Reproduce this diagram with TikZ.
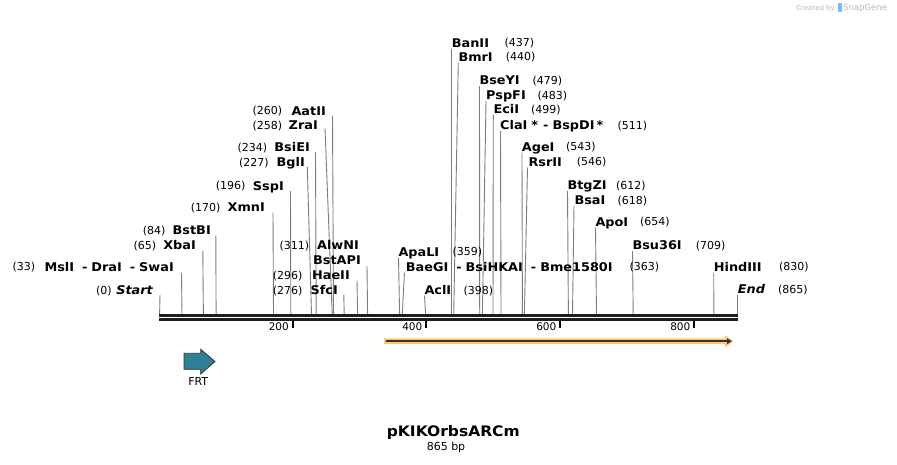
\documentclass[tikz,border=0pt]{standalone}
\usepackage{fontspec}
\setmainfont{DejaVu Sans}
\newfontfamily\enzfont{DejaVu Sans}[FakeStretch=1.07]
\definecolor{sitegray}{RGB}{125,125,125}
\definecolor{axisblack}{RGB}{30,30,30}
\definecolor{frtteal}{RGB}{46,128,150}
\definecolor{featorange}{RGB}{250,200,116}
\definecolor{featdark}{RGB}{51,51,51}
\definecolor{wmgray}{RGB}{185,185,185}
\definecolor{wmblue}{RGB}{120,190,235}
\tikzset{
  nm/.style={font=\enzfont\fontsize{12}{14}\selectfont\bfseries, inner sep=0pt, text=black},
  num/.style={font=\fontsize{11}{13}\selectfont, inner sep=0pt, text=black},
  site/.style={draw=sitegray, line width=0.9pt},
  axisline/.style={draw=axisblack, line width=2.7pt},
  tickmark/.style={draw=black, line width=2pt},
  ticklab/.style={font=\fontsize{10.5}{12}\selectfont, inner sep=0pt, anchor=base east},
}
\newcommand\enzR[6]{%
  \node[nm,anchor=base west] (n#1) at (#3,#4+4.4) {#2};
  \node[num,anchor=base west] (p#1) at (#6,#4+4) {#5};}
\newcommand\enzL[6]{%
  \node[nm,anchor=base east] (n#1) at (#3,#4+4.4) {#2};
  \node[num,anchor=base west] (p#1) at (#6,#4+4) {#5};}
\newcommand\cutln[4]{%
  \coordinate (t#1) at (#2,#3);
  \coordinate (b#1) at (#4,314);
  \draw[site] (t#1) -- (b#1);}
\begin{document}
\begin{tikzpicture}[x=1pt,y=-1pt]
\useasboundingbox[fill=white] (0,0) rectangle (897,464);

% watermark
\node[font=\fontsize{7}{8}\selectfont, text=wmgray, inner sep=0pt, anchor=base east] (wm1) at (835,10) {Created by};
\fill[wmblue] (838,3) rectangle (841.5,12);
\node[font=\fontsize{8.5}{10}\selectfont, text=wmgray, inner sep=0pt, anchor=base west] (wm2) at (843,10.5) {SnapGene};

% cut lines
\cutln{Start}{160}{295}{159.6}
\cutln{Msl}{181.5}{272.7}{182}
\cutln{Xba}{202.8}{251}{203.4}
\cutln{BstB}{215.8}{235.7}{216.1}
\cutln{Xmn}{273}{212.7}{273.5}
\cutln{Ssp}{290.5}{191}{290.8}
\cutln{Bgl}{307.3}{167}{311.5}
\cutln{BsiE}{315.5}{152}{316.2}
\cutln{Zra}{325}{128.5}{332.2}
\cutln{Aat}{332.5}{115.5}{333.5}
\cutln{Sfc}{343.8}{295}{344.2}
\cutln{Hae}{357}{280.7}{357.6}
\cutln{BstAP}{367}{266}{367.6}
\cutln{ApaL}{398.5}{257.5}{399.6}
\cutln{BaeG}{404.5}{272.5}{402.3}
\cutln{Acl}{424.5}{295.5}{425.6}
\cutln{Ban}{451.7}{48.5}{451.7}
\cutln{Bmr}{458.3}{62.5}{453.7}
\cutln{BseY}{479.5}{86}{479.7}
\cutln{PspF}{486}{101}{482.4}
\cutln{Eci}{493.3}{115}{493.0}
\cutln{Cla}{500.5}{131}{501.0}
\cutln{Age}{522}{152.5}{522.4}
\cutln{Rsr}{527.5}{167.5}{524.4}
\cutln{BtgZ}{567.5}{191}{568.4}
\cutln{Bsa}{574}{206}{572.5}
\cutln{Apo}{595.5}{227.5}{596.5}
\cutln{Bsu}{632.5}{251}{633.2}
\cutln{Hind}{713.7}{272.5}{713.9}
\cutln{End}{737}{295}{737}

% left labels
\enzL{Aat}{AatII}{326}{110.7}{(260)}{252.3}
\enzL{Zra}{ZraI}{318}{125}{(258)}{252.3}
\enzL{BsiE}{BsiEI}{310}{147.3}{(234)}{237.3}
\enzL{Bgl}{BglI}{305}{162.3}{(227)}{239}
\enzL{Ssp}{SspI}{284}{185.7}{(196)}{215.7}
\enzL{Xmn}{XmnI}{265}{207.3}{(170)}{190.7}
\enzL{BstB}{BstBI}{211}{230}{(84)}{142.7}
\enzL{Xba}{XbaI}{196}{245}{(65)}{133.3}
\enzL{Msl}{MslI\hspace{8pt}-\hspace{4pt}DraI\hspace{8pt}-\hspace{4pt}SwaI}{174}{266.7}{(33)}{12.5}
\enzL{Start}{\itshape Start}{153}{290}{(0)}{96}
\enzL{AlwN}{AlwNI}{359}{245}{(311)}{279.3}
\node[nm,anchor=base east] (nBstAP) at (361,264.4) {BstAPI};
\enzL{Hae}{HaeII}{350}{275}{(296)}{272.7}
\enzL{Sfc}{SfcI}{338}{290}{(276)}{272.7}

% right labels
\enzR{Ban}{BanII}{451.7}{42.7}{(437)}{504.3}
\enzR{Bmr}{BmrI}{458.3}{56.7}{(440)}{505.7}
\enzR{BseY}{BseYI}{479.3}{80}{(479)}{532.3}
\enzR{PspF}{PspFI}{486}{95}{(483)}{537.3}
\enzR{Eci}{EciI}{493.3}{109.3}{(499)}{531}
\enzR{Cla}{ClaI\hspace{4pt}*\hspace{5pt}-\hspace{4pt}BspDI\hspace{2pt}*}{500}{125}{(511)}{617.3}
\enzR{Age}{AgeI}{521.7}{146.7}{(543)}{566}
\enzR{Rsr}{RsrII}{528.3}{161.7}{(546)}{576.7}
\enzR{BtgZ}{BtgZI}{567.3}{185}{(612)}{616}
\enzR{Bsa}{BsaI}{574.3}{200}{(618)}{617.3}
\enzR{Apo}{ApoI}{595.3}{221.7}{(654)}{640}
\enzR{Bsu}{Bsu36I}{632.3}{245}{(709)}{695.7}
\enzR{Hind}{HindIII}{713.7}{266.7}{(830)}{779}
\enzR{End}{\itshape End}{737.7}{289.3}{(865)}{778}
\enzR{ApaL}{ApaLI}{398.3}{251.7}{(359)}{452.3}
\enzR{BaeG}{BaeGI\hspace{8pt}-\hspace{4pt}BsiHKAI\hspace{8pt}-\hspace{4pt}Bme1580I}{405.7}{266.7}{(363)}{629.3}
\enzR{Acl}{AclI}{424.3}{290}{(398)}{463.3}

% axis
\coordinate (axL1) at (159,315.3); \coordinate (axR1) at (738,315.3);
\coordinate (axL2) at (159,319.3); \coordinate (axR2) at (738,319.3);
\draw[axisline] (axL1) -- (axR1);
\draw[axisline] (axL2) -- (axR2);
\foreach \tx/\tl in {292.5/200, 426/400, 560/600, 694/800}{
  \coordinate (tk\tl a) at (\tx,320.7);
  \coordinate (tk\tl b) at (\tx,327.5);
  \draw[tickmark] (tk\tl a) -- (tk\tl b);
  \node[ticklab] (tl\tl) at (\tx-3.5,330.5) {\tl};
}

% orange feature
\fill[featorange] (384,338.3) -- (725,338.3) -- (725,335) -- (733.5,341.2) -- (725,347.4) -- (725,344) -- (384,344) -- cycle;
\coordinate (fs) at (385.5,341.2); \coordinate (fe) at (727.5,341.2);
\draw[featdark, line width=2.3pt] (fs) -- (fe);
\fill[featdark] (727,338.2) -- (731.8,341.2) -- (727,344.2) -- cycle;

% FRT
\draw[fill=frtteal, draw=featdark, line width=0.8pt] (184,353.3) -- (200.7,353.3) -- (200.7,349.3) -- (215,361.5) -- (200.7,374) -- (200.7,369.3) -- (184,369.3) -- cycle;
\node[font=\fontsize{11}{13}\selectfont, inner sep=0pt] (frt) at (198.2,381.7) {FRT};

% title
\node[font=\enzfont\fontsize{14.5}{17}\selectfont\bfseries, inner sep=0pt] (title) at (453.3,432.7) {pKIKOrbsARCm};
\node[font=\fontsize{11}{13}\selectfont, inner sep=0pt] (len) at (446,447.3) {865 bp};
\end{tikzpicture}
\end{document}
